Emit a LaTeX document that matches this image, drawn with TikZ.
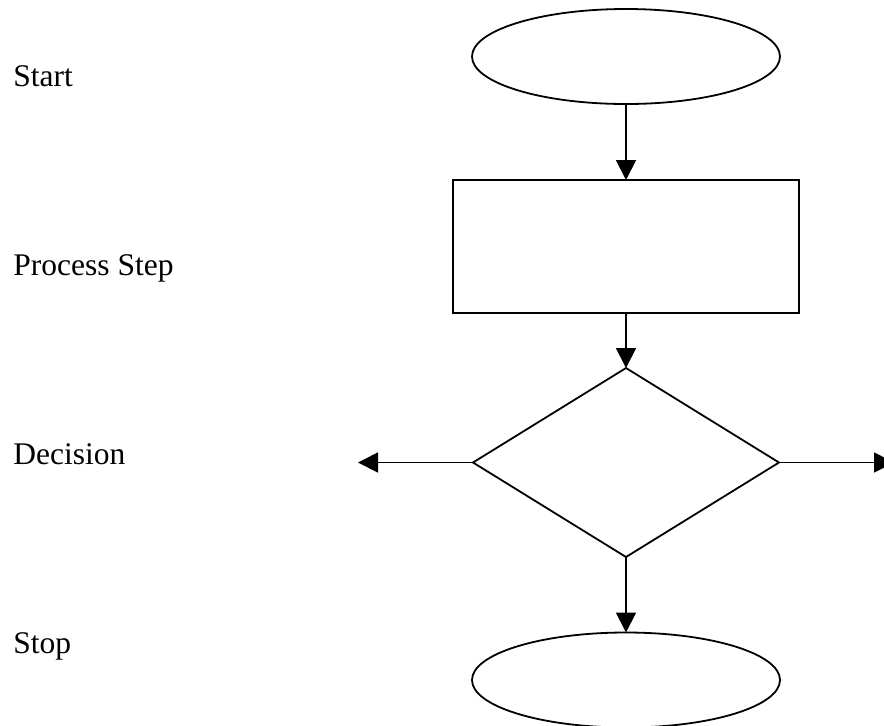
\documentclass[tikz,border=0pt]{standalone}
\usepackage{fontspec}
\setmainfont{Liberation Serif}
\usetikzlibrary{shapes.geometric,arrows.meta}
\begin{document}
\begin{tikzpicture}[x=0.5pt,y=-0.5pt,
  shp/.style={draw=black,line width=0.9pt,inner sep=0pt,outer sep=0pt},
  oval/.style={shp,ellipse,minimum width=154pt,minimum height=47.5pt},
  procbox/.style={shp,rectangle,minimum width=173pt,minimum height=66.5pt},
  decbox/.style={shp,diamond,minimum width=153pt,minimum height=94.5pt},
  arr/.style={line width=0.9pt,-{Triangle[length=10pt,width=10pt]}},
  lbl/.style={anchor=base west,inner sep=0pt,font=\fontsize{15.75pt}{18pt}\selectfont}]
\useasboundingbox (0,0) rectangle (884,725);
\node[oval] (start) at (626,56.5) {};
\node[procbox] (proc) at (626,246.5) {};
\node[decbox] (dec) at (626,462.5) {};
\node[oval] (stop) at (626,680) {};
\coordinate (leftend) at (358,462.5);
\coordinate (rightend) at (894,462.5);
\draw[arr] (start.south) -- (proc.north);
\draw[arr] (proc.south) -- (dec.north);
\draw[arr] (dec.west) -- (leftend);
\draw[arr] (dec.east) -- (rightend);
\draw[arr] (dec.south) -- (stop.north);
\node[lbl] (tstart) at (13,86) {Start};
\node[lbl] (tproc) at (13,275) {Process Step};
\node[lbl] (tdec) at (13,464) {Decision};
\node[lbl] (tstop) at (13,653) {Stop};
\end{tikzpicture}
\end{document}
